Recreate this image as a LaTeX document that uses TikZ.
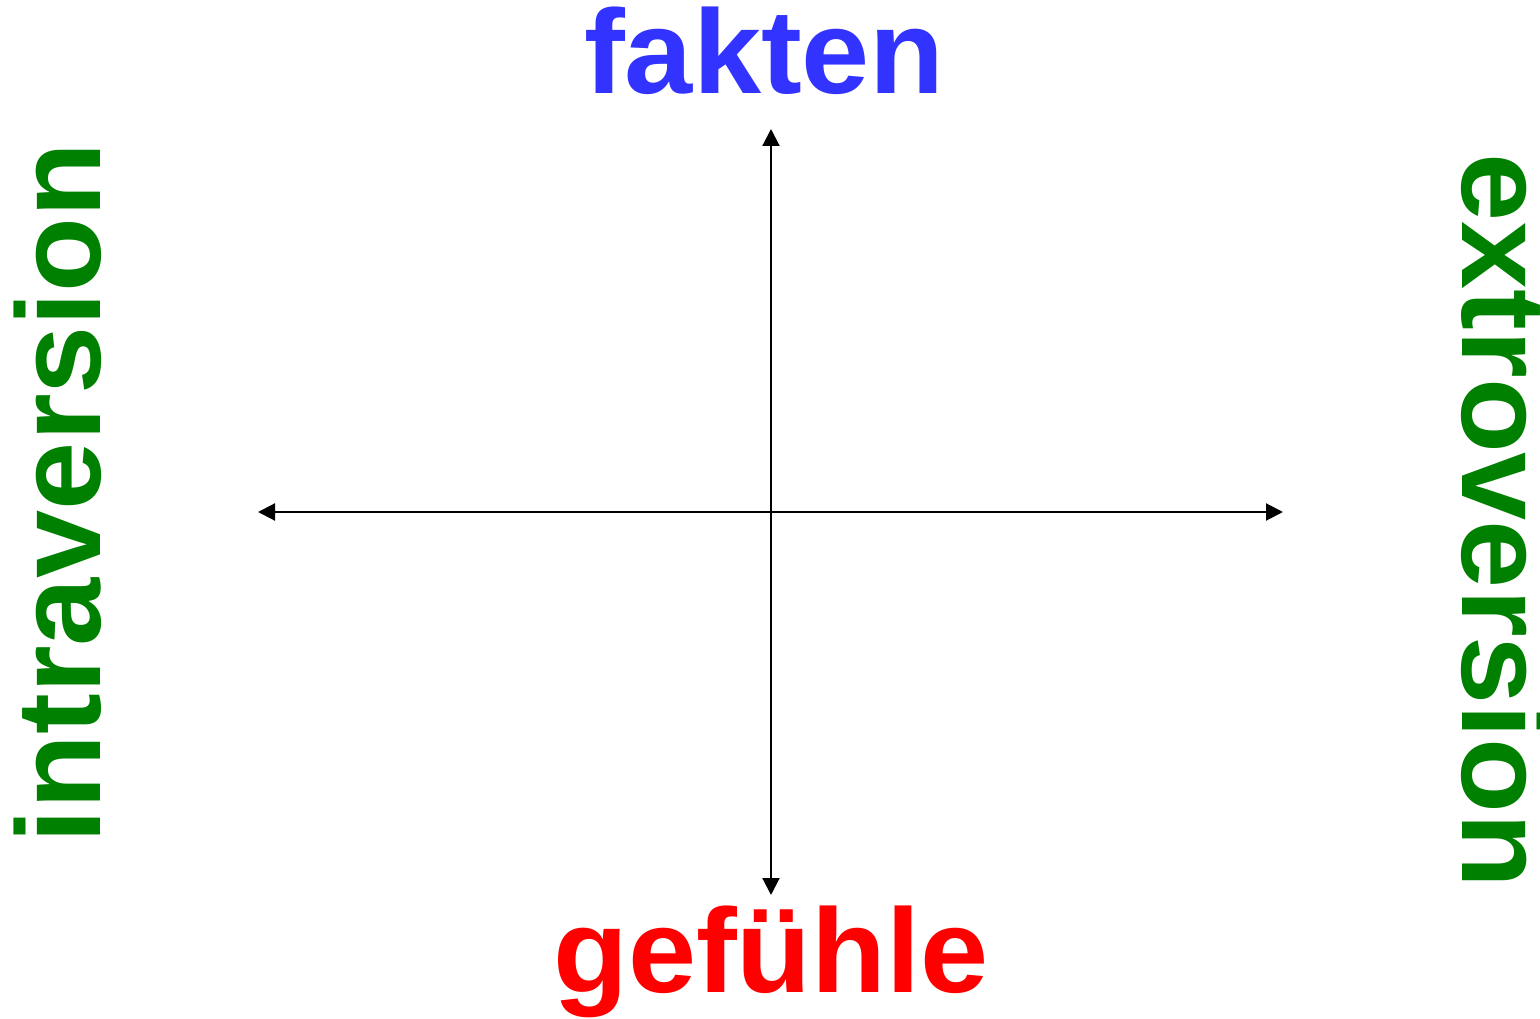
\documentclass[tikz,border=0pt]{standalone}
\usepackage{fontspec}
\setmainfont{Liberation Sans}
\newfontfamily\labelfont[FakeStretch=1.025]{Liberation Sans}
\usetikzlibrary{arrows.meta}
\definecolor{faktblue}{HTML}{3333FF}
\definecolor{axisgreen}{HTML}{008000}
\definecolor{gefred}{HTML}{FF0000}

\begin{document}
\begin{tikzpicture}[
    label/.style={inner sep=0pt, anchor=base, font=\labelfont\fontsize{34}{34}\selectfont\bfseries},
    axis/.style={{Triangle[length=0.17cm, width=0.17cm]}-{Triangle[length=0.17cm, width=0.17cm]}, line width=0.6pt}
  ]
  \useasboundingbox (0,0) rectangle (15.4,10.18);
  % axis end points
  \coordinate (top)    at (7.71,8.89);
  \coordinate (bottom) at (7.71,1.23);
  \coordinate (left)   at (2.58,5.06);
  \coordinate (right)  at (12.83,5.06);

  \draw[axis] (bottom) -- (top);
  \draw[axis] (left) -- (right);

  % labels
  \node[label, faktblue] (fakten) at (7.645,9.24) {fakten};
  \node[label, gefred] (gefuehle) at (7.71,0.25) {gefühle};
  \node[label, axisgreen, rotate=90] (intra) at (1.00,5.25) {intraversion};
  \node[label, axisgreen, rotate=-90] (extra) at (14.62,4.97) {extroversion};
\end{tikzpicture}
\end{document}
